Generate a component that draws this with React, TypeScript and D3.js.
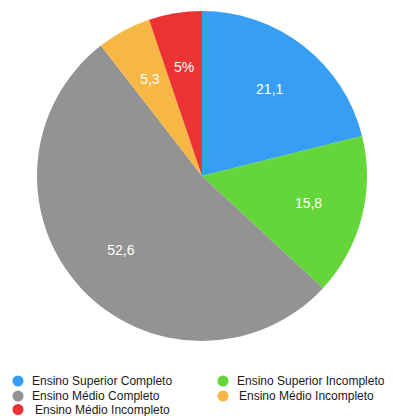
import React from "react";
import * as d3 from "d3";

const categories = [
  "Ensino Superior Completo",
  "Ensino Superior Incompleto",
  "Ensino Médio Completo",
  "Ensino Médio Incompleto",
  "Ensino Médio Incompleto (2)",
];
const values = [21.1, 15.8, 52.6, 5.3, 5.2];
const valueLabels = ["21,1", "15,8", "52,6", "5,3", "5%"];
const colors = ["#379ef5", "#64d63a", "#939393", "#f7b744", "#eb3333"];
const legendNames = [
  "Ensino Superior Completo",
  "Ensino Superior Incompleto",
  "Ensino Médio Completo",
  "Ensino Médio Incompleto",
  "Ensino Médio Incompleto",
];

const W = 393;
const H = 416;
const cx = 202;
const cy = 176;
const R = 165;

export default function App() {
  const pie = d3.pie<number>().sort(null).value((d) => d);
  const arcs = pie(values);
  const arc = d3.arc<d3.PieArcDatum<number>>().innerRadius(0).outerRadius(R);
  const labelArc = d3
    .arc<d3.PieArcDatum<number>>()
    .innerRadius(110)
    .outerRadius(110);

  const legendPos = [
    { cx: 18, cy: 381, tx: 32 },
    { cx: 223, cy: 381, tx: 237 },
    { cx: 18, cy: 396, tx: 32 },
    { cx: 223, cy: 396, tx: 239 },
    { cx: 18, cy: 409.5, tx: 35 },
  ];

  return (
    <svg
      width={W}
      height={H}
      style={{ position: "absolute", left: 0, top: 0, background: "#fff" }}
      fontFamily="'Liberation Sans', Arial, Helvetica, sans-serif"
    >
      <g transform={`translate(${cx},${cy})`}>
        {arcs.map((a, i) => (
          <path key={categories[i]} d={arc(a) || ""} fill={colors[i]} />
        ))}
        {arcs.map((a, i) => {
          const [x, y] = labelArc.centroid(a);
          return (
            <text
              key={"l" + i}
              x={x}
              y={y}
              fill="#fff"
              fontSize={14}
              textAnchor="middle"
              dominantBaseline="central"
            >
              {valueLabels[i]}
            </text>
          );
        })}
      </g>
      {legendNames.map((name, i) => (
        <g key={"lg" + i}>
          <circle
            cx={legendPos[i].cx}
            cy={legendPos[i].cy}
            r={5.5}
            fill={colors[i]}
          />
          <text
            x={legendPos[i].tx}
            y={legendPos[i].cy}
            fontSize={12}
            fill="#1a1a1a"
            dominantBaseline="central"
          >
            {name}
          </text>
        </g>
      ))}
    </svg>
  );
}
